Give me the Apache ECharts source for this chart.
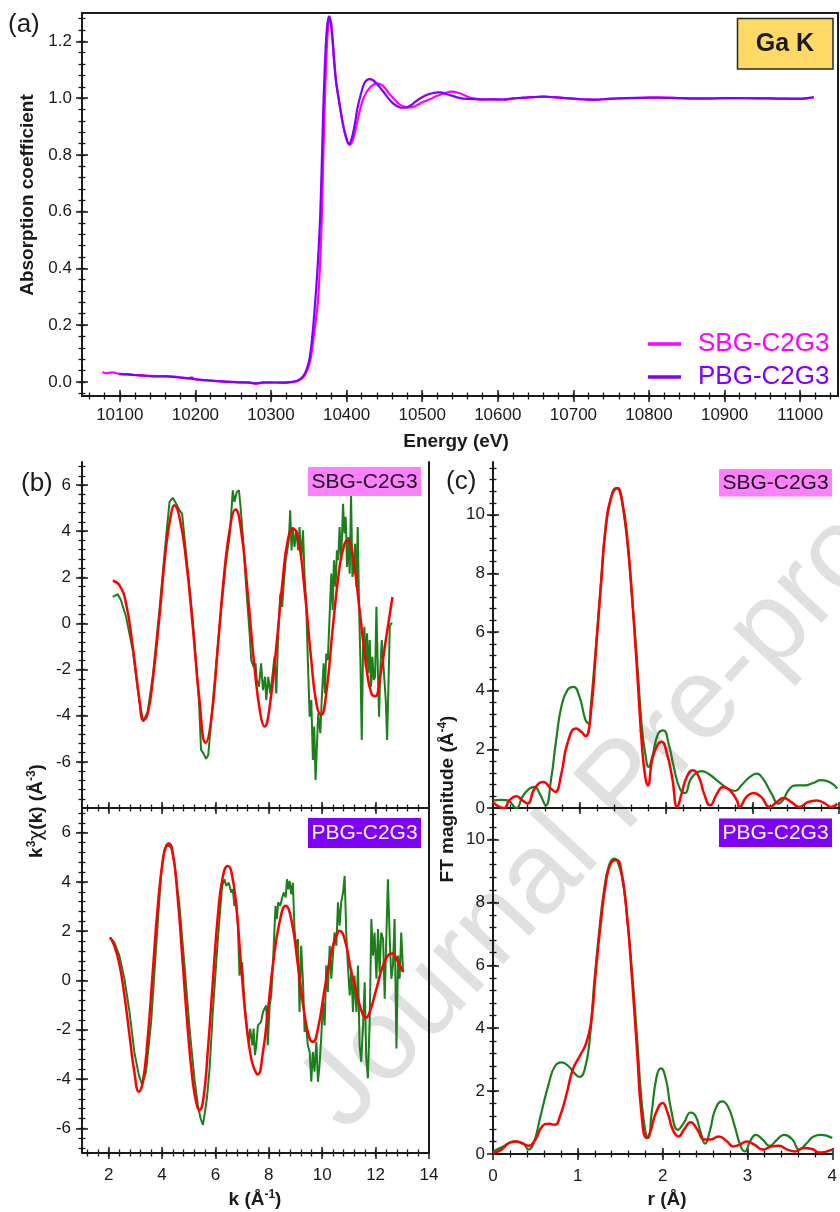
<!DOCTYPE html>
<html>
<head>
<meta charset="utf-8">
<script src="https://cdn.jsdelivr.net/npm/echarts@6/dist/echarts.min.js"></script>
<style>html,body{margin:0;padding:0;background:#fff}#c{width:840px;height:1212px}</style>
</head>
<body>
<div id="c"></div>
<script>
// ---------------- DATA ----------------
// (a) Ga K-edge XANES : [energy (eV), normalized absorption]
const sbgXanes = [[10077,0.035],[10082,0.03],[10090,0.033],[10100,0.028],[10110,0.027],[10120,0.024],[10130,0.023],[10140,0.021],[10150,0.02],[10160,0.02],[10170,0.019],[10180,0.016],[10190,0.013],[10195,0.016],[10200,0.008],[10210,0.006],[10220,0.004],[10230,0.002],[10240,0.0],[10250,0.0],[10260,-0.002],[10270,-0.002],[10280,-0.007],[10290,-0.002],[10300,-0.003],[10310,-0.002],[10320,-0.004],[10330,0.0],[10335,0.003],[10340,0.01],[10345,0.025],[10350,0.055],[10353,0.09],[10356,0.15],[10359,0.21],[10362,0.28],[10365,0.42],[10367,0.56],[10369,0.78],[10371,0.97],[10373,1.13],[10375,1.23],[10377.5,1.28],[10380,1.255],[10383,1.14],[10386,1.06],[10390,0.99],[10395,0.91],[10400,0.855],[10404,0.835],[10408,0.85],[10412,0.89],[10416,0.94],[10421,0.99],[10426,1.02],[10432,1.04],[10437,1.05],[10441,1.052],[10446,1.047],[10450,1.038],[10455,1.02],[10460,1.005],[10465,0.99],[10470,0.978],[10476,0.97],[10482,0.967],[10488,0.969],[10494,0.976],[10500,0.985],[10510,0.996],[10520,1.008],[10530,1.018],[10540,1.023],[10550,1.017],[10560,1.005],[10570,0.998],[10580,0.996],[10590,0.995],[10600,0.996],[10610,0.994],[10620,0.998],[10630,1.0],[10640,1.002],[10650,1.004],[10660,1.005],[10670,1.004],[10680,1.003],[10690,1.0],[10700,0.998],[10710,0.996],[10720,0.995],[10730,0.994],[10740,0.996],[10750,0.997],[10760,0.999],[10780,1.0],[10800,1.002],[10820,1.002],[10840,1.0],[10860,0.998],[10880,0.998],[10900,1.0],[10920,1.0],[10940,1.0],[10960,0.999],[10980,0.998],[11000,0.997],[11010,1.0],[11018,1.003]];
const pbgXanes = [[10099,0.027],[10110,0.026],[10120,0.024],[10130,0.022],[10140,0.02],[10150,0.019],[10160,0.019],[10170,0.017],[10180,0.015],[10190,0.012],[10200,0.009],[10210,0.007],[10220,0.004],[10230,0.002],[10240,0.001],[10250,-0.001],[10260,-0.002],[10270,-0.003],[10280,-0.005],[10290,-0.003],[10300,-0.002],[10310,-0.003],[10320,-0.002],[10330,0.001],[10335,0.004],[10340,0.012],[10345,0.03],[10350,0.07],[10353,0.12],[10356,0.2],[10359,0.3],[10362,0.42],[10365,0.58],[10367,0.75],[10369,0.95],[10371,1.1],[10373,1.21],[10375,1.27],[10377,1.288],[10379,1.27],[10382,1.19],[10386,1.06],[10390,0.99],[10395,0.91],[10399,0.865],[10403,0.838],[10407,0.86],[10411,0.91],[10414,0.96],[10417,0.995],[10420,1.025],[10424,1.055],[10430,1.067],[10435,1.063],[10440,1.05],[10445,1.035],[10450,1.018],[10455,1.0],[10460,0.985],[10465,0.975],[10470,0.968],[10474,0.966],[10480,0.968],[10485,0.975],[10490,0.985],[10495,0.995],[10500,1.003],[10505,1.01],[10510,1.015],[10515,1.018],[10520,1.02],[10525,1.02],[10530,1.016],[10540,1.008],[10550,1.0],[10560,0.997],[10570,0.996],[10580,0.995],[10590,0.996],[10600,0.995],[10610,0.996],[10620,0.999],[10630,1.001],[10640,1.003],[10650,1.004],[10660,1.005],[10670,1.004],[10680,1.002],[10690,1.0],[10700,0.998],[10710,0.996],[10720,0.995],[10730,0.995],[10740,0.996],[10750,0.998],[10760,0.999],[10780,1.001],[10800,1.002],[10820,1.001],[10840,1.0],[10860,0.999],[10880,0.999],[10900,1.0],[10920,1.0],[10940,0.999],[10960,0.999],[10980,0.998],[11000,0.998],[11010,1.0],[11018,1.003]];

// (b) k^3 chi(k) : [k, value]
const sbgChiExp = [[2.15,1.15],[2.34,1.27],[2.46,1.01],[2.65,0.29],[2.9,-1.15],[3.15,-3.39],[3.3,-4.26],[3.46,-3.82],[3.65,-2.31],[3.9,0.58],[4.15,3.75],[4.28,5.27],[4.4,5.45],[4.53,5.19],[4.65,4.91],[4.75,4.76],[4.9,3.03],[5.15,0.14],[5.38,-3.32],[5.46,-5.48],[5.55,-5.63],[5.65,-5.87],[5.73,-5.7],[5.9,-3.46],[6.15,-0.14],[6.4,2.74],[6.53,3.75],[6.65,5.77],[6.71,5.27],[6.8,5.7],[6.88,5.77],[6.93,5.19],[7.03,3.75],[7.15,1.59],[7.28,-0.43],[7.34,-1.59],[7.43,-1.88],[7.5,-1.73],[7.55,-2.45],[7.63,-2.74],[7.71,-1.73],[7.78,-2.89],[7.86,-2.31],[7.9,-3.32],[7.98,-2.31],[8.05,-3.03],[8.13,-2.31],[8.21,-1.44],[8.28,-3.03],[8.35,-0.43],[8.43,1.3],[8.5,0.72],[8.55,1.59],[8.63,2.74],[8.69,3.17],[8.75,3.61],[8.8,4.91],[8.85,3.17],[8.9,4.18],[8.96,3.32],[9.03,4.04],[9.1,3.17],[9.15,4.18],[9.21,2.74],[9.28,4.04],[9.34,2.02],[9.4,0.87],[9.46,-1.59],[9.53,-4.04],[9.59,-3.32],[9.65,-5.92],[9.7,-4.47],[9.75,-6.78],[9.8,-5.34],[9.85,-3.9],[9.93,-4.76],[9.98,-3.32],[10.05,-1.73],[10.1,-3.03],[10.15,-1.3],[10.21,-1.59],[10.28,0.43],[10.34,2.16],[10.39,0.58],[10.44,2.74],[10.5,1.59],[10.55,3.17],[10.6,2.74],[10.65,4.18],[10.71,2.74],[10.78,5.19],[10.83,3.9],[10.88,4.62],[10.93,2.45],[10.98,3.75],[11.03,2.16],[11.08,5.63],[11.13,2.02],[11.18,2.31],[11.23,3.46],[11.28,1.59],[11.33,4.18],[11.38,0.72],[11.43,-1.59],[11.48,-5.05],[11.53,-1.01],[11.58,-0.14],[11.63,-1.88],[11.68,-0.43],[11.73,-2.16],[11.78,-0.72],[11.83,-2.74],[11.88,-1.44],[11.93,-2.45],[11.98,-2.31],[12.03,0.72],[12.08,-1.88],[12.13,-4.04],[12.18,-1.88],[12.23,-0.72],[12.28,-1.59],[12.33,-2.45],[12.38,-3.32],[12.43,-5.05],[12.48,-2.74],[12.53,-0.14],[12.58,0],[12.63,0]];
const sbgChiFit = [[2.15,1.85],[2.4,1.66],[2.65,0.87],[2.9,-1.0],[3.15,-3.3],[3.3,-4.19],[3.46,-3.9],[3.65,-2.45],[3.9,0.29],[4.15,3.32],[4.34,4.76],[4.46,5.12],[4.65,4.62],[4.9,2.74],[5.15,-0.14],[5.4,-3.32],[5.63,-5.17],[5.84,-4.18],[6.09,-1.0],[6.34,2.31],[6.59,4.47],[6.75,4.94],[6.96,4.04],[7.21,1.3],[7.46,-1.88],[7.68,-3.9],[7.84,-4.47],[8.03,-3.61],[8.28,-1.0],[8.53,2.02],[8.71,3.6],[8.9,4.11],[9.09,3.75],[9.34,1.44],[9.59,-1.59],[9.78,-3.46],[9.96,-3.97],[10.15,-3.03],[10.4,-0.14],[10.65,2.45],[10.84,3.46],[10.96,3.61],[11.15,2.89],[11.4,0.58],[11.65,-1.88],[11.84,-3.03],[11.99,-3.15],[12.15,-2.45],[12.4,-0.58],[12.63,1.15]];
const pbgChiExp = [[2.05,1.75],[2.21,1.55],[2.4,1.01],[2.59,0.07],[2.78,-1.28],[2.96,-2.9],[3.13,-3.84],[3.25,-4.22],[3.4,-3.7],[3.59,-1.68],[3.78,1.41],[3.96,4.24],[4.09,5.32],[4.21,5.52],[4.34,5.39],[4.46,4.78],[4.65,3.03],[4.84,0.61],[5.03,-1.95],[5.21,-3.97],[5.34,-5.05],[5.44,-5.59],[5.53,-5.86],[5.59,-5.45],[5.68,-4.78],[5.78,-3.57],[5.9,-1.28],[6.09,1.68],[6.25,3.84],[6.34,4.11],[6.4,3.84],[6.5,3.97],[6.59,3.57],[6.65,3.7],[6.71,3.03],[6.78,3.17],[6.84,2.22],[6.9,0.2],[7.0,0.74],[7.09,-1.01],[7.18,-1.95],[7.25,-2.49],[7.3,-1.95],[7.38,-2.63],[7.43,-1.95],[7.48,-3.03],[7.53,-2.63],[7.59,-1.82],[7.65,-1.82],[7.71,-1.68],[7.78,-1.28],[7.84,-1.14],[7.9,-1.01],[7.96,-2.63],[8.03,-1.01],[8.09,-0.61],[8.15,0.61],[8.25,3.03],[8.3,2.49],[8.35,3.17],[8.43,3.03],[8.5,3.37],[8.56,3.57],[8.63,3.37],[8.68,4.11],[8.73,3.7],[8.78,4.04],[8.84,3.5],[8.9,3.97],[8.96,2.09],[9.03,1.28],[9.09,1.68],[9.15,-1.28],[9.21,1.41],[9.28,-0.07],[9.34,-2.09],[9.4,-1.82],[9.46,-2.63],[9.53,-2.9],[9.59,-4.11],[9.65,-2.9],[9.71,-3.7],[9.78,-2.49],[9.84,-4.11],[9.9,-3.43],[9.96,-2.36],[10.03,-0.88],[10.09,-1.82],[10.15,0.61],[10.21,-0.47],[10.28,1.41],[10.34,0.07],[10.4,1.01],[10.46,1.95],[10.53,1.41],[10.59,3.17],[10.65,2.22],[10.71,3.17],[10.78,3.57],[10.84,4.24],[10.9,1.95],[10.96,0.61],[11.03,-0.61],[11.09,0.47],[11.15,-1.28],[11.21,0.2],[11.28,-1.28],[11.34,0.61],[11.4,-2.63],[11.46,-3.3],[11.53,-1.82],[11.59,-0.07],[11.65,-3.17],[11.71,-3.97],[11.78,-1.55],[11.84,2.49],[11.9,1.01],[11.96,1.95],[12.03,0.07],[12.09,2.09],[12.15,0.34],[12.21,1.95],[12.28,1.68],[12.34,-0.74],[12.4,1.68],[12.46,4.11],[12.53,1.68],[12.59,0.07],[12.65,0.61],[12.71,2.49],[12.78,-2.76],[12.84,1.01],[12.9,0.07],[12.96,1.95],[13.03,0.34]];
const pbgChiFit = [[2.05,1.75],[2.21,1.41],[2.4,0.67],[2.59,-0.61],[2.78,-2.22],[2.96,-3.7],[3.13,-4.51],[3.28,-4.11],[3.46,-2.36],[3.65,0.34],[3.84,3.03],[4.03,4.92],[4.15,5.45],[4.25,5.56],[4.4,5.19],[4.59,3.3],[4.78,0.61],[4.96,-1.95],[5.15,-4.11],[5.3,-5.05],[5.4,-5.25],[5.55,-4.78],[5.71,-2.9],[5.9,-0.07],[6.09,2.63],[6.28,4.24],[6.46,4.65],[6.59,4.44],[6.78,3.03],[6.96,0.61],[7.15,-1.68],[7.34,-3.17],[7.5,-3.7],[7.59,-3.81],[7.78,-2.9],[7.96,-1.28],[8.15,0.61],[8.4,2.36],[8.63,3.03],[8.84,2.49],[9.09,0.61],[9.34,-1.41],[9.53,-2.36],[9.65,-2.49],[9.84,-1.95],[10.09,-0.34],[10.34,1.14],[10.53,1.82],[10.65,2.02],[10.84,1.68],[11.09,0.34],[11.34,-0.74],[11.53,-1.41],[11.63,-1.51],[11.78,-1.28],[12.03,-0.34],[12.28,0.61],[12.53,1.08],[12.63,1.1],[12.78,0.88],[13.03,0.34]];

// (c) FT magnitude : [r, value]
const sbgFtExp = [[0,0.26],[0.1,0.28],[0.17,0.26],[0.27,0.0],[0.34,0.38],[0.42,0.66],[0.48,0.72],[0.54,0.49],[0.61,0.09],[0.67,0.95],[0.73,2.31],[0.79,3.45],[0.86,4.02],[0.93,4.13],[1.0,3.79],[1.07,3.0],[1.11,2.88],[1.13,3.45],[1.19,5.5],[1.25,7.78],[1.3,9.49],[1.36,10.51],[1.42,10.91],[1.46,10.83],[1.5,10.28],[1.55,9.15],[1.61,7.1],[1.67,4.82],[1.72,2.77],[1.76,1.86],[1.8,1.4],[1.84,1.74],[1.91,2.54],[1.97,2.65],[2.03,2.2],[2.09,1.4],[2.16,0.66],[2.22,0.51],[2.28,0.95],[2.34,1.17],[2.41,1.26],[2.49,1.17],[2.61,0.89],[2.72,0.66],[2.8,0.58],[2.87,0.77],[2.97,1.06],[3.05,1.17],[3.12,1.0],[3.22,0.49],[3.3,0.15],[3.35,0.26],[3.43,0.66],[3.51,0.77],[3.6,0.77],[3.7,0.85],[3.79,0.95],[3.89,0.89],[3.98,0.66]];
const sbgFtFit = [[0,0.2],[0.08,0.03],[0.13,0.0],[0.19,0.26],[0.27,0.4],[0.34,0.26],[0.4,0.15],[0.48,0.66],[0.58,0.89],[0.67,0.66],[0.72,0.55],[0.79,1.17],[0.86,2.2],[0.96,2.71],[1.02,2.6],[1.07,2.45],[1.13,3.22],[1.19,5.39],[1.25,7.67],[1.3,9.49],[1.36,10.54],[1.44,10.91],[1.49,10.51],[1.55,9.26],[1.61,7.1],[1.67,4.48],[1.72,2.2],[1.76,1.06],[1.79,0.77],[1.84,1.63],[1.9,2.14],[1.95,2.26],[2.01,1.86],[2.07,1.06],[2.13,0.03],[2.18,0.49],[2.24,1.06],[2.31,1.29],[2.38,1.06],[2.44,0.49],[2.51,0.09],[2.59,0.49],[2.66,0.72],[2.74,0.6],[2.82,0.26],[2.85,0.03],[2.93,0.38],[3.01,0.51],[3.1,0.38],[3.2,0.03],[3.28,0.2],[3.36,0.34],[3.45,0.2],[3.54,0.03],[3.64,0.2],[3.74,0.26],[3.83,0.17],[3.91,0.03],[3.98,0.15]];
const pbgFtExp = [[0,0.08],[0.12,0.24],[0.25,0.4],[0.35,0.35],[0.42,0.14],[0.48,0.35],[0.56,1.2],[0.66,2.26],[0.73,2.79],[0.81,2.91],[0.89,2.79],[0.96,2.57],[1.02,2.45],[1.08,2.68],[1.14,3.63],[1.19,5.33],[1.25,7.02],[1.31,8.4],[1.37,9.19],[1.43,9.39],[1.46,9.35],[1.52,8.82],[1.58,7.55],[1.64,5.75],[1.7,3.63],[1.75,1.73],[1.8,0.67],[1.83,0.51],[1.87,1.3],[1.93,2.47],[1.98,2.72],[2.04,2.36],[2.1,1.41],[2.18,0.77],[2.25,0.99],[2.33,1.32],[2.39,1.2],[2.45,0.67],[2.5,0.33],[2.56,0.77],[2.62,1.41],[2.7,1.67],[2.77,1.51],[2.85,0.88],[2.92,0.24],[2.97,0.08],[3.03,0.4],[3.1,0.61],[3.18,0.46],[3.26,0.26],[3.35,0.46],[3.43,0.61],[3.53,0.46],[3.61,0.14],[3.7,0.35],[3.78,0.56],[3.87,0.61],[4.0,0.51]];
const pbgFtFit = [[0,0.03],[0.1,0.14],[0.19,0.35],[0.27,0.4],[0.35,0.33],[0.42,0.26],[0.5,0.46],[0.58,0.88],[0.66,0.96],[0.73,0.93],[0.79,1.2],[0.87,1.94],[0.94,2.68],[1.02,3.1],[1.1,3.53],[1.16,4.27],[1.21,5.75],[1.27,7.34],[1.33,8.61],[1.39,9.25],[1.46,9.35],[1.51,9.04],[1.57,7.87],[1.64,5.54],[1.7,3.21],[1.75,1.3],[1.81,0.51],[1.85,0.67],[1.92,1.3],[2.0,1.62],[2.06,1.3],[2.12,0.77],[2.19,0.56],[2.25,0.77],[2.33,1.01],[2.41,0.77],[2.49,0.46],[2.56,0.46],[2.66,0.56],[2.76,0.4],[2.83,0.24],[2.91,0.3],[2.99,0.4],[3.08,0.3],[3.18,0.14],[3.28,0.24],[3.37,0.26],[3.47,0.14],[3.56,0.08],[3.66,0.19],[3.76,0.16],[3.85,0.05],[4.0,0.14]];

// labels
const seriesNames = ['SBG-C2G3', 'PBG-C2G3'];
const panelLetters = ['(a)', '(b)', '(c)'];

// ---------------- STYLE / LAYOUT ----------------
const FONT = "'Liberation Sans', Arial, Helvetica, sans-serif";
const AX = '#1a1a1a';
const C_SBG = '#ff00ff', C_PBG = '#8000ff', C_EXP = '#1c7f1c', C_FIT = '#ff0000';

function seq(a, b, step) {
  const out = []; const n = Math.round((b - a) / step);
  for (let i = 0; i <= n; i++) out.push(+(a + i * step).toFixed(6));
  return out;
}

const xAxes = [], yAxes = [];
function addAxis(list, o) {
  const base = { type: 'value', gridIndex: o.grid, position: o.pos, min: o.min, max: o.max,
    splitLine: { show: false }, axisPointer: { show: false } };
  const idx = list.length;
  list.push(Object.assign({}, base, {
    axisLine: { show: o.line !== false, onZero: false, lineStyle: { color: AX, width: 2 } },
    axisTick: { show: false },
    axisLabel: o.labels ? { show: true, customValues: o.labels, formatter: o.fmt || (v => String(v)),
      margin: o.margin, color: AX, fontSize: 17, fontFamily: FONT } : { show: false }
  }));
  if (o.majors) list.push(Object.assign({}, base, { offset: -6,
    axisLine: { show: false, onZero: false }, axisLabel: { show: false },
    axisTick: { show: true, customValues: o.majors, length: 12, lineStyle: { color: AX, width: 1.5 } } }));
  if (o.minors) list.push(Object.assign({}, base, { offset: -3.5,
    axisLine: { show: false, onZero: false }, axisLabel: { show: false },
    axisTick: { show: true, customValues: o.minors, length: 7, lineStyle: { color: AX, width: 1.3 } } }));
  return idx;
}

const grids = [
  { left: 82, top: 13, width: 756, height: 383, show: true, borderColor: AX, borderWidth: 2 },
  { left: 82, top: 462, width: 347, height: 346 },
  { left: 82, top: 808, width: 347, height: 345 },
  { left: 493, top: 462, width: 346, height: 346 },
  { left: 493, top: 808, width: 346, height: 346 }
];

// (a)
const axA = addAxis(xAxes, { grid: 0, pos: 'bottom', min: 10050, max: 11050, majors: seq(10100, 11000, 100),
  minors: seq(10060, 11040, 20), labels: seq(10100, 11000, 100), margin: 11 });
const ayA = addAxis(yAxes, { grid: 0, pos: 'left', min: -0.05, max: 1.3, majors: seq(0, 1.2, 0.2),
  minors: seq(-0.04, 1.28, 0.04), labels: seq(0, 1.2, 0.2), fmt: v => v.toFixed(1), margin: 10 });
// (b) top
const axB1 = addAxis(xAxes, { grid: 1, pos: 'bottom', min: 1, max: 14, majors: seq(2, 14, 2), minors: seq(1.2, 13.6, 0.4) });
const ayB1 = addAxis(yAxes, { grid: 1, pos: 'left', min: -8, max: 7, majors: seq(-6, 6, 2), minors: seq(-7.6, 6.8, 0.4),
  labels: seq(-6, 6, 2), margin: 11 });
addAxis(yAxes, { grid: 1, pos: 'right', min: -8, max: 7 });
// (b) bottom
const axB2 = addAxis(xAxes, { grid: 2, pos: 'bottom', min: 1, max: 14, majors: seq(2, 14, 2), minors: seq(1.2, 13.6, 0.4),
  labels: seq(2, 14, 2), margin: 14 });
const ayB2 = addAxis(yAxes, { grid: 2, pos: 'left', min: -7, max: 7, majors: seq(-6, 6, 2), minors: seq(-6.8, 6.8, 0.4),
  labels: seq(-6, 6, 2), margin: 11 });
addAxis(yAxes, { grid: 2, pos: 'right', min: -7, max: 7 });
// (c) top
const axC1 = addAxis(xAxes, { grid: 3, pos: 'bottom', min: 0, max: 4, majors: seq(0, 4, 1), minors: seq(0.2, 3.8, 0.2) });
const ayC1 = addAxis(yAxes, { grid: 3, pos: 'left', min: 0, max: 11.8, majors: seq(0, 10, 2), minors: seq(0.4, 11.6, 0.4),
  labels: seq(0, 10, 2), margin: 8 });
// (c) bottom
const axC2 = addAxis(xAxes, { grid: 4, pos: 'bottom', min: 0, max: 4, majors: seq(0, 4, 1), minors: seq(0.2, 3.8, 0.2),
  labels: seq(0, 4, 1), margin: 14 });
const ayC2 = addAxis(yAxes, { grid: 4, pos: 'left', min: 0, max: 11, majors: seq(0, 10, 2), minors: seq(0.4, 10.8, 0.4),
  labels: seq(0, 10, 2), margin: 8 });

function line(name, data, xi, yi, color, width, smooth, z) {
  return { type: 'line', name, data, xAxisIndex: xi, yAxisIndex: yi, showSymbol: false, symbol: 'none',
    smooth: smooth, color, lineStyle: { color, width }, z: z || 2, animation: false, clip: true };
}

const series = [
  line(seriesNames[0], sbgXanes, axA, ayA, C_SBG, 2.2, 0.3, 3),
  line(seriesNames[1], pbgXanes, axA, ayA, C_PBG, 2.2, 0.3, 4),
  line('SBG exp k', sbgChiExp, axB1, ayB1, C_EXP, 2, false, 3),
  line('SBG fit k', sbgChiFit, axB1, ayB1, C_FIT, 2.5, 0.5, 4),
  line('PBG exp k', pbgChiExp, axB2, ayB2, C_EXP, 2, false, 3),
  line('PBG fit k', pbgChiFit, axB2, ayB2, C_FIT, 2.5, 0.5, 4),
  line('SBG exp r', sbgFtExp, axC1, ayC1, C_EXP, 2.2, 0.5, 3),
  line('SBG fit r', sbgFtFit, axC1, ayC1, C_FIT, 2.5, 0.5, 4),
  line('PBG exp r', pbgFtExp, axC2, ayC2, C_EXP, 2.2, 0.5, 3),
  line('PBG fit r', pbgFtFit, axC2, ayC2, C_FIT, 2.5, 0.5, 4)
];

function txt(text, x, y, size, opts) {
  opts = opts || {};
  return { type: 'text', x, y, rotation: opts.rot || 0, z: opts.z || 10,
    style: { text, fontSize: size, fontFamily: FONT, fontWeight: opts.bold ? 'bold' : 'normal',
      fill: opts.color || AX, align: opts.align || 'center', verticalAlign: 'middle', rich: opts.rich } };
}
function tag(text, x, y, w, h, bg, fg) {
  return [
    { type: 'rect', z: 10, shape: { x, y, width: w, height: h }, style: { fill: bg } },
    txt(text, x + w / 2, y + h / 2 + 0.5, 21, { color: fg })
  ];
}
const bold19 = { fontSize: 19, fontWeight: 'bold', fontFamily: FONT, fill: AX, lineHeight: 22 };
const sup = { fontSize: 12, fontWeight: 'bold', fontFamily: FONT, fill: AX, lineHeight: 12, verticalAlign: 'top' };
const greek = { fontSize: 19, fontWeight: 'normal', fontFamily: 'DejaVu Sans', fill: AX, lineHeight: 22 };

const graphic = [
  { type: 'text', x: 625, y: 787, rotation: 47 * Math.PI / 180, z: -5, silent: true,
    style: { text: 'Journal Pre-proof', fontSize: 115, fontFamily: FONT, fill: '#e0e0e0', align: 'center', verticalAlign: 'middle' } },
  txt(panelLetters[0], 8, 25, 26, { align: 'left' }),
  txt(panelLetters[1], 21, 484, 26, { align: 'left' }),
  txt(panelLetters[2], 446, 482, 26, { align: 'left' }),
  { type: 'rect', z: 10, shape: { x: 737.5, y: 18.5, width: 95.5, height: 50.5 }, style: { fill: '#ffd966', stroke: '#2a2a2a', lineWidth: 1.5 } },
  txt('Ga K', 785, 44.5, 25, { bold: true }),
  ...tag(seriesNames[0], 308, 467, 113, 29, '#ff80ff', '#111'),
  ...tag(seriesNames[1], 308, 818, 113, 30, '#8000ff', '#fff'),
  ...tag(seriesNames[0], 719, 469, 113, 27.5, '#ff80ff', '#111'),
  ...tag(seriesNames[1], 719, 818.5, 113, 28.5, '#8000ff', '#fff'),
  txt('Absorption coefficient', 27.5, 195, 19, { bold: true, rot: Math.PI / 2 }),
  txt('Energy (eV)', 456, 442, 19, { bold: true }),
  txt('{b|k}{s|3}{g|χ}{b|(k) (Å}{s|-3}{b|)}', 37, 811, 19, { rot: Math.PI / 2, rich: { b: bold19, s: sup, g: greek } }),
  txt('{b|FT magnitude (Å}{s|-4}{b|)}', 448, 799, 19, { rot: Math.PI / 2, rich: { b: bold19, s: sup } }),
  txt('{b|k (Å}{s|-1}{b|)}', 255, 1200, 19, { rich: { b: bold19, s: sup } }),
  txt('r (Å)', 667, 1200, 19, { bold: true })
];

const chart = echarts.init(document.getElementById('c'), null, { renderer: 'canvas' });
chart.setOption({
  animation: false,
  backgroundColor: '#ffffff',
  grid: grids,
  xAxis: xAxes,
  yAxis: yAxes,
  legend: {
    show: true, orient: 'vertical', left: 643, top: 326, itemWidth: 33, itemHeight: 3.5, itemGap: 7,
    icon: 'rect', selectedMode: false,
    data: [{ name: seriesNames[0], textStyle: { color: C_SBG } }, { name: seriesNames[1], textStyle: { color: C_PBG } }],
    textStyle: { fontSize: 26, fontFamily: FONT, padding: [0, 0, 0, 12], lineHeight: 26 }
  },
  series,
  graphic
});
</script>
</body>
</html>
